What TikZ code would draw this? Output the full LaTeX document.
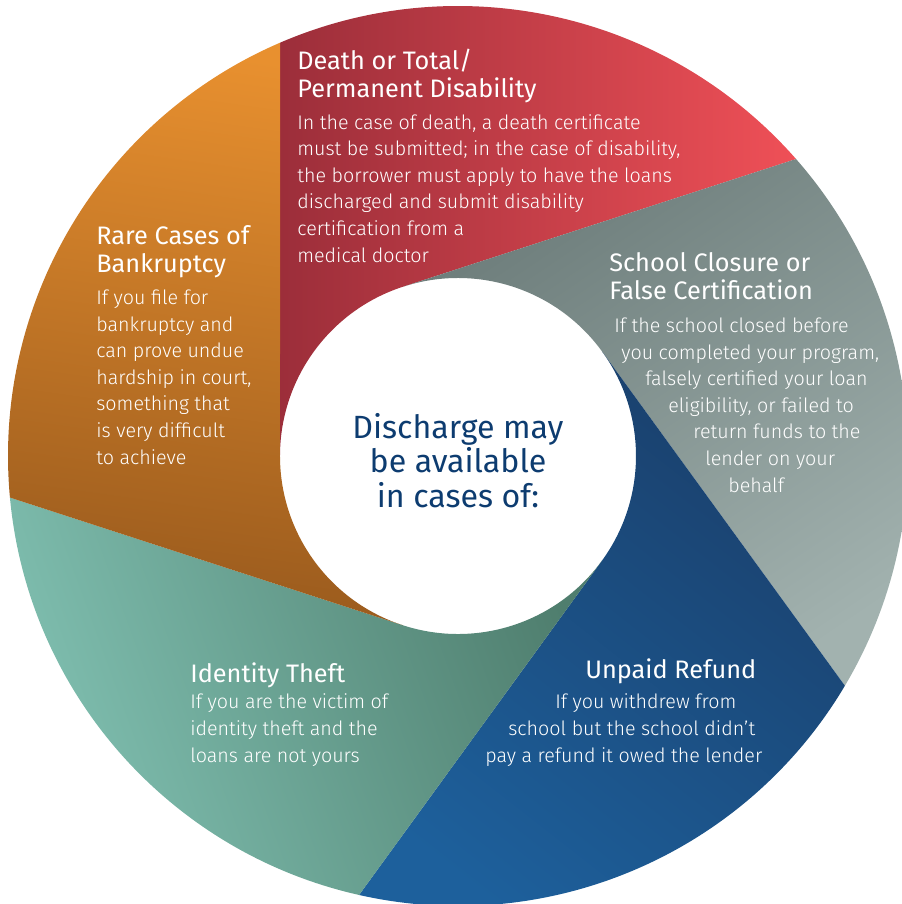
\documentclass[tikz,border=0pt]{standalone}
\usepackage{fontspec}
\setmainfont{Fira Sans}
\newfontfamily\lightfont{Fira Sans Light}

\definecolor{redDark}{HTML}{9C2E3A}
\definecolor{redLight}{HTML}{EF5057}
\definecolor{grayDark}{HTML}{6D7D7B}
\definecolor{grayLight}{HTML}{A2B2AF}
\definecolor{navyDark}{HTML}{1A3F6B}
\definecolor{navyLight}{HTML}{1D609C}
\definecolor{tealDark}{HTML}{4F7E6E}
\definecolor{tealLight}{HTML}{80C0B1}
\definecolor{orangeTop}{HTML}{E8902F}
\definecolor{orangeBottom}{HTML}{995A1D}
\definecolor{hubBlue}{HTML}{0D3C70}

\tikzset{
  title/.style={anchor=base west, inner sep=0pt, align=left, text=white,
    font=\fontsize{14.4}{15.8}\selectfont},
  body/.style={anchor=base west, inner sep=0pt, align=left, text=white,
    font=\lightfont\fontsize{11.2}{15.1}\selectfont},
  hub/.style={anchor=base, inner sep=0pt, align=center, text=hubBlue,
    font=\fontsize{18.3}{19.6}\selectfont}
}

\begin{document}
\begin{tikzpicture}[x=0.2mm, y=0.2mm]
      \clip (-458,-448) rectangle (444,456);

      % Draw the five blades round the hub
      \shade[top color=redDark, bottom color=redLight, shading angle=90]
        (180:178) -- (113.3:450) arc[start angle=113.3, end angle=41.3, radius=450]
        -- (108:178) arc[start angle=108, end angle=180, radius=178] -- cycle;
      \shade[top color=grayDark, bottom color=grayLight, shading angle=34]
        (108:178) -- (41.3:450) arc[start angle=41.3, end angle=-30.7, radius=450]
        -- (36:178) arc[start angle=36, end angle=108, radius=178] -- cycle;
      \shade[top color=navyDark, bottom color=navyLight, shading angle=-38]
        (36:178) -- (-30.7:450) arc[start angle=-30.7, end angle=-102.7, radius=450]
        -- (-36:178) arc[start angle=-36, end angle=36, radius=178] -- cycle;
      \shade[top color=tealDark, bottom color=tealLight, shading angle=-70]
        (-36:178) -- (-102.7:450) arc[start angle=-102.7, end angle=-174.7, radius=450]
        -- (-108:178) arc[start angle=-108, end angle=-36, radius=178] -- cycle;
      \shade[top color=orangeTop, bottom color=orangeBottom, shading angle=-8]
        (-108:178) -- (-174.7:450) arc[start angle=-174.7, end angle=-246.7, radius=450]
        -- (-180:178) arc[start angle=-180, end angle=-108, radius=178] -- cycle;

      % Hub text (anchored on its last line)
      \node[hub] (hubText) at (0,-51) {Discharge may\\be available\\in cases of:};

      % Blade texts
      \node[title] (deathTitle) at (-161,359) {Death or Total/\\Permanent Disability};
      \node[body] (deathText) at (-161,194) {In the case of death, a death certificate\\must be submitted; in the case of disability,\\the borrower must apply to have the loans\\discharged and submit disability\\certification from a\\medical doctor};

      \node[title] (schoolTitle) at (151,157) {School Closure or\\False Certification};
      \node[body] (schoolText) at (156,-36) {If the school closed before\\\hspace*{4pt}you completed your program,\\\hspace*{17.6pt}falsely certified your loan\\\hspace*{30.7pt}eligibility, or failed to\\\hspace*{45pt}return funds to the\\\hspace*{51.8pt}lender on your\\\hspace*{64.9pt}behalf};

      \node[title] (refundTitle) at (127,-222) {Unpaid Refund};
      \node[body] (refundText) at (27,-306) {\hspace*{39.8pt}If you withdrew from\\\hspace*{13.1pt}school but the school didn’t\\pay a refund it owed the lender};

      \node[title] (theftTitle) at (-268,-226) {Identity Theft};
      \node[body] (theftText) at (-268,-306) {If you are the victim of\\identity theft and the\\loans are not yours};

      \node[title] (bankTitle) at (-362,184) {Rare Cases of\\Bankruptcy};
      \node[body] (bankText) at (-362,-8) {If you file for\\bankruptcy and\\can prove undue\\hardship in court,\\something that\\is very difficult\\to achieve};
\end{tikzpicture}
\end{document}
